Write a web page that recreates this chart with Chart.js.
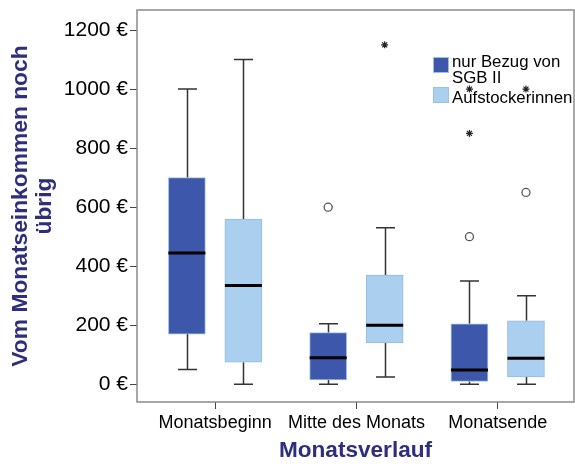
<!DOCTYPE html>
<html>
<head>
<meta charset="utf-8">
<script src="https://cdn.jsdelivr.net/npm/chart.js@4/dist/chart.umd.min.js"></script>
<style>
  html, body { margin: 0; padding: 0; background: #fff; overflow: hidden; }
  #wrap { width: 575px; height: 464px; position: relative; }
</style>
</head>
<body>
<div id="wrap"><canvas id="box"></canvas></div>
<script>
const categories = ['Monatsbeginn', 'Mitte des Monats', 'Monatsende'];
const seriesNames = [['nur Bezug von', 'SGB II'], ['Aufstockerinnen']];
const yTicks = [0, 200, 400, 600, 800, 1000, 1200];

// nur Bezug von SGB II
const sgbMin = [50, 0, 0];
const sgbQ1 = [170, 15, 10];
const sgbMedian = [445, 90, 48];
const sgbQ3 = [700, 175, 205];
const sgbMax = [1000, 205, 350];
const sgbOutliers = [[], [600], [500]];
const sgbExtremes = [[], [], [850, 1000]];

// Aufstockerinnen
const aufMin = [0, 25, 0];
const aufQ1 = [75, 140, 25];
const aufMedian = [335, 200, 88];
const aufQ3 = [560, 370, 215];
const aufMax = [1100, 530, 300];
const aufOutliers = [[], [], [650]];
const aufExtremes = [[], [1150], [1000]];

const DARK = '#3d58aa';
const LIGHT = '#abcfee';
const NAVY = '#2d2f7d';
const FONT = "'Liberation Sans', Arial, sans-serif";
const SHIFT = 0.2;

function boxData(q1, q3, off) {
    return q1.map((v, i) => ({ x: i + 1 + off, y: [v, q3[i]] }));
}
function pointData(list, off) {
    const pts = [];
    list.forEach((vals, i) => vals.forEach(v => pts.push({ x: i + 1 + off, y: v })));
    return pts;
}

const groups = [
    { off: -SHIFT, min: sgbMin, med: sgbMedian, max: sgbMax, q1: sgbQ1, q3: sgbQ3 },
    { off: SHIFT, min: aufMin, med: aufMedian, max: aufMax, q1: aufQ1, q3: aufQ3 }
];

// whiskers, caps and medians drawn with the chart's own scales
const boxExtras = {
    id: 'boxExtras',
    beforeDatasetsDraw(chart) {
        const ctx = chart.ctx, xs = chart.scales.x, ys = chart.scales.y;
        ctx.save();
        ctx.strokeStyle = '#333';
        ctx.lineWidth = 1.5;
        groups.forEach(g => {
            g.min.forEach((lo, i) => {
                const cx = Math.round(xs.getPixelForValue(i + 1 + g.off)) + 0.5;
                [[lo, g.q1[i]], [g.max[i], g.q3[i]]].forEach(([end, edge]) => {
                    const ye = ys.getPixelForValue(end);
                    ctx.beginPath();
                    ctx.moveTo(cx, ye);
                    ctx.lineTo(cx, ys.getPixelForValue(edge));
                    ctx.moveTo(cx - 9.5, ye);
                    ctx.lineTo(cx + 9.5, ye);
                    ctx.stroke();
                });
            });
        });
        ctx.restore();
    },
    afterDatasetsDraw(chart) {
        const ctx = chart.ctx, xs = chart.scales.x, ys = chart.scales.y;
        ctx.save();
        ctx.strokeStyle = '#000';
        ctx.lineWidth = 3;
        groups.forEach(g => {
            g.med.forEach((m, i) => {
                const cx = xs.getPixelForValue(i + 1 + g.off);
                const y = ys.getPixelForValue(m);
                ctx.beginPath();
                ctx.moveTo(cx - 18.5, y);
                ctx.lineTo(cx + 18.5, y);
                ctx.stroke();
            });
        });
        ctx.restore();
    },
    afterDraw(chart) {
        const ctx = chart.ctx, a = chart.chartArea;
        ctx.save();
        // plot frame
        ctx.strokeStyle = '#8a8a8a';
        ctx.lineWidth = 1.5;
        ctx.strokeRect(a.left, a.top, a.right - a.left, a.bottom - a.top);
        // legend inside the plot
        const lx = a.right - 141;
        const rows = [{ c: DARK, y: a.top + 47, base: a.top + 57 }, { c: LIGHT, y: a.top + 77, base: a.top + 93 }];
        ctx.font = '16.8px ' + FONT;
        ctx.textBaseline = 'alphabetic';
        rows.forEach((r, k) => {
            ctx.fillStyle = r.c;
            ctx.fillRect(lx, r.y, 16, 16);
            ctx.strokeStyle = '#9cc0ea';
            ctx.lineWidth = 1;
            ctx.strokeRect(lx + 0.5, r.y + 0.5, 15, 15);
            ctx.fillStyle = '#000';
            seriesNames[k].forEach((t, j) => ctx.fillText(t, lx + 19, r.base + j * 15.5));
        });
        ctx.restore();
    }
};

const ctx = document.getElementById('box');
new Chart(ctx, {
    type: 'bar',
    data: {
        datasets: [
            { label: 'sgb', data: boxData(sgbQ1, sgbQ3, -SHIFT), backgroundColor: DARK, borderColor: '#9cbde8', borderWidth: 1, borderSkipped: false, barThickness: 37, grouped: false },
            { label: 'auf', data: boxData(aufQ1, aufQ3, SHIFT), backgroundColor: LIGHT, borderColor: '#8fbbe6', borderWidth: 1, borderSkipped: false, barThickness: 37, grouped: false },
            { type: 'scatter', label: 'o1', data: pointData(sgbOutliers, -SHIFT), pointStyle: 'circle', pointRadius: 4, borderColor: '#555', borderWidth: 1.3, backgroundColor: '#fff' },
            { type: 'scatter', label: 'o2', data: pointData(aufOutliers, SHIFT), pointStyle: 'circle', pointRadius: 4, borderColor: '#555', borderWidth: 1.3, backgroundColor: '#fff' },
            { type: 'scatter', label: 'e1', data: pointData(sgbExtremes, -SHIFT), pointStyle: 'star', pointRadius: 3.5, borderColor: '#222', borderWidth: 1.2 },
            { type: 'scatter', label: 'e2', data: pointData(aufExtremes, SHIFT), pointStyle: 'star', pointRadius: 3.5, borderColor: '#222', borderWidth: 1.2 }
        ]
    },
    options: {
        responsive: true,
        maintainAspectRatio: false,
        animation: false,
        layout: { autoPadding: false, padding: { top: 10, right: 1, left: 0, bottom: 0 } },
        plugins: {
            legend: { display: false },
            tooltip: { enabled: false }
        },
        scales: {
            x: {
                type: 'linear',
                offset: false,
                min: 0.447,
                max: 3.54,
                afterBuildTicks: s => { s.ticks = categories.map((c, i) => ({ value: i + 1 })); },
                afterFit: s => { s.height = 62; s.paddingLeft = 0; s.paddingRight = 0; },
                ticks: {
                    color: '#000',
                    font: { family: FONT, size: 18 },
                    padding: 3,
                    maxRotation: 0,
                    autoSkip: false,
                    callback: v => categories[v - 1]
                },
                grid: { drawOnChartArea: false, offset: false, tickLength: 7, color: '#444' },
                border: { display: false },
                title: {
                    display: true,
                    text: 'Monatsverlauf',
                    color: NAVY,
                    font: { family: FONT, size: 22.6, weight: 'bold' },
                    padding: { top: 0, bottom: 0 }
                }
            },
            y: {
                min: -60,
                max: 1268,
                afterBuildTicks: s => { s.ticks = yTicks.map(v => ({ value: v })); },
                afterFit: s => { s.width = 137; s.paddingTop = 0; s.paddingBottom = 0; },
                ticks: {
                    color: '#000',
                    font: { family: FONT, size: 21 },
                    padding: 2,
                    callback: v => v + ' €'
                },
                grid: { drawOnChartArea: false, tickLength: 7, color: '#444' },
                border: { display: false },
                title: {
                    display: true,
                    text: ['Vom Monatseinkommen noch', 'übrig'],
                    color: NAVY,
                    font: { family: FONT, size: 22.8, weight: 'bold', lineHeight: 1.05 },
                    padding: { top: 9, bottom: 0 }
                }
            }
        }
    },
    plugins: [boxExtras]
});
</script>
</body>
</html>
